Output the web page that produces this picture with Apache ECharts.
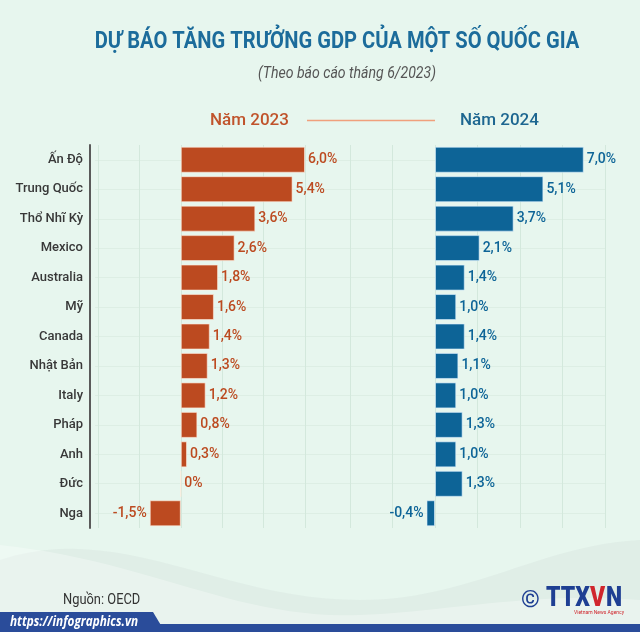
<!DOCTYPE html>
<html>
<head>
<meta charset="utf-8">
<script src="https://cdn.jsdelivr.net/npm/echarts@6/dist/echarts.min.js"></script>
<style>
html,body{margin:0;padding:0;background:#e7f6ee;}
#c{width:640px;height:632px;}
</style>
</head>
<body>
<div id="c"></div>
<script>
// ---- data ----
const countries = ['Ấn Độ','Trung Quốc','Thổ Nhĩ Kỳ','Mexico','Australia','Mỹ','Canada','Nhật Bản','Italy','Pháp','Anh','Đức','Nga'];
const growth2023 = [6.0, 5.4, 3.6, 2.6, 1.8, 1.6, 1.4, 1.3, 1.2, 0.8, 0.3, 0, -1.5];
const growth2024 = [7.0, 5.1, 3.7, 2.1, 1.4, 1.0, 1.4, 1.1, 1.0, 1.3, 1.0, 1.3, -0.4];
const seriesNames = ['Năm 2023', 'Năm 2024'];
const titleText = 'DỰ BÁO TĂNG TRƯỞNG GDP CỦA MỘT SỐ QUỐC GIA';
const subtitleText = '(Theo báo cáo tháng 6/2023)';
const sourceText = 'Nguồn: OECD';
const urlText = 'https://infographics.vn';

const C23 = '#bc4a20', C24 = '#0d6497';
const GRID = '#d3e8dc';

function fmt(v){ return v === 0 ? '0%' : v.toFixed(1).replace('.', ',') + '%'; }
function toData(arr){
  return arr.map(v => ({ value: v, label: { position: v < 0 ? 'left' : 'right' } }));
}
// decorative background swoosh: sample cubic bezier segments into polygon points
function swoosh(segs, closeY){
  const pts = [];
  segs.forEach(s => {
    for (let i = 0; i <= 24; i++){
      const t = i / 24, u = 1 - t;
      pts.push([
        u*u*u*s[0][0] + 3*u*u*t*s[1][0] + 3*u*t*t*s[2][0] + t*t*t*s[3][0],
        u*u*u*s[0][1] + 3*u*u*t*s[1][1] + 3*u*t*t*s[2][1] + t*t*t*s[3][1]
      ]);
    }
  });
  pts.push([640, closeY], [0, closeY]);
  return pts;
}

function txt(x, y, text, font, fill, align, scaleX){
  return { type: 'text', x: x, y: y, scaleX: scaleX || 1, silent: true,
    style: { x: 0, y: 0, text: text, font: font, fill: fill,
             align: align || 'left', verticalAlign: 'middle',
             textAlign: align || 'left', textVerticalAlign: 'middle' } };
}

const chart = echarts.init(document.getElementById('c'), null, {renderer:'canvas'});
const option = {
  backgroundColor: '#e7f6ee',
  animation: false,
  grid: [
    { left: 98, right: 335, top: 145, bottom: 104 },
    { left: 350, right: 35, top: 145, bottom: 104 },
    { left: 95, right: 35, top: 160, bottom: 119 }
  ],
  xAxis: [
    { type: 'value', gridIndex: 0, min: -4, max: 6, interval: 2,
      axisLabel: { show: false }, axisLine: { show: false }, axisTick: { show: false },
      splitLine: { show: true, lineStyle: { color: GRID, width: 1 } } },
    { type: 'value', gridIndex: 1, min: -4, max: 8, interval: 2,
      axisLabel: { show: false }, axisLine: { show: false }, axisTick: { show: false },
      splitLine: { show: true, lineStyle: { color: GRID, width: 1 } } },
    { type: 'value', gridIndex: 2, min: 0, max: 1, show: false }
  ],
  yAxis: [
    { type: 'category', gridIndex: 0, data: countries, inverse: true,
      offset: 8,
      axisLine: { show: true, onZero: false, lineStyle: { color: '#5a5a5a', width: 2 } },
      axisTick: { show: false },
      axisLabel: { margin: 7, color: '#383838', fontFamily: 'Roboto', fontWeight: 500, fontSize: 13 },
      splitLine: { show: false } },
    { type: 'category', gridIndex: 1, data: countries, inverse: true,
      axisLine: { show: false }, axisTick: { show: false }, axisLabel: { show: false } },
    { type: 'value', gridIndex: 2, min: 0, max: 12, interval: 1,
      axisLine: { show: false }, axisTick: { show: false }, axisLabel: { show: false },
      splitLine: { show: true, lineStyle: { color: '#ddeee4', width: 1 } } }
  ],
  series: [
    { name: seriesNames[0], type: 'bar', xAxisIndex: 0, yAxisIndex: 0, barWidth: 26,
      data: toData(growth2023),
      itemStyle: { color: C23, borderColor: 'rgba(255,235,220,0.6)', borderWidth: 1 },
      label: { show: true, distance: 3, formatter: p => fmt(p.value), color: C23,
               fontFamily: 'Roboto', fontWeight: 500, fontSize: 14 } },
    { name: seriesNames[1], type: 'bar', xAxisIndex: 1, yAxisIndex: 1, barWidth: 26,
      data: toData(growth2024),
      itemStyle: { color: C24, borderColor: 'rgba(220,240,255,0.6)', borderWidth: 1 },
      label: { show: true, distance: 3, formatter: p => fmt(p.value), color: C24,
               fontFamily: 'Roboto', fontWeight: 500, fontSize: 14 } }
  ],
  graphic: [
    { type: 'polygon', z: -10, silent: true,
      shape: { points: swoosh([[[0,560],[120,520],[220,600],[360,600]], [[360,600],[470,600],[540,545],[640,540]]], 632) },
      style: { fill: 'rgba(205,215,212,0.25)' } },
    { type: 'polygon', z: -9, silent: true,
      shape: { points: swoosh([[[0,545],[140,560],[220,610],[330,615]], [[330,615],[420,618],[520,590],[640,600]]], 632) },
      style: { fill: 'rgba(255,255,255,0.3)' } },
    // titles
    txt(337, 42, titleText, 'bold 24px Roboto', '#1c6c9b', 'center', 0.84),
    txt(347, 74, subtitleText, 'italic 16px Roboto', '#555', 'center', 0.88),
    // legend
    txt(210, 121, seriesNames[0], '500 17px Roboto', '#c0532b', 'left'),
    { type: 'line', silent: true, shape: { x1: 307, y1: 120.5, x2: 435, y2: 120.5 }, style: { stroke: '#f0a07c', lineWidth: 1.5 } },
    txt(460, 121, seriesNames[1], '500 17px Roboto', '#1d6690', 'left'),
    // source
    txt(63, 600, sourceText, '14px Roboto', '#333', 'left', 0.92),
    // bottom band
    { type: 'rect', silent: true, shape: { x: 0, y: 624, width: 640, height: 8 }, style: { fill: '#2a4c9a' } },
    { type: 'polygon', silent: true, shape: { points: [[0,612],[153,612],[165,632],[0,632]] }, style: { fill: '#2a4c9a' } },
    txt(10, 622, urlText, 'italic bold 14px "Open Sans"', '#fff', 'left', 0.84),
    // logo
    txt(521, 601, '©', 'bold 24px Roboto', '#1e3f93', 'left'),
    txt(546, 599, 'TTX', '900 27px Roboto', '#1e3f93', 'left', 0.85),
    txt(590, 599, 'V', '900 27px Roboto', '#d0262c', 'left', 0.85),
    txt(606, 599, 'N', '900 27px Roboto', '#1e3f93', 'left', 0.85),
    txt(574, 613, 'Vietnam News Agency', '5px Roboto', '#d0262c', 'left')
  ]
};
chart.setOption(option);
</script>
</body>
</html>
